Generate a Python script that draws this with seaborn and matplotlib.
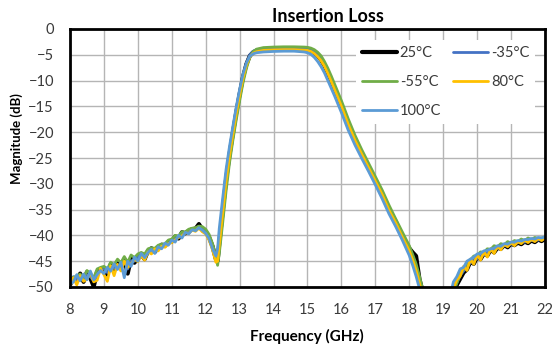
import matplotlib
matplotlib.use("Agg")
import matplotlib.pyplot as plt
from matplotlib.lines import Line2D
import seaborn as sns
import pandas as pd

# ---------------- data ----------------
freq_lower = [8.0, 8.1, 8.2, 8.3, 8.4, 8.5, 8.6, 8.7, 8.8, 8.9,
              9.0, 9.1, 9.2, 9.3, 9.4, 9.5, 9.6, 9.7, 9.8, 9.9,
              10.0, 10.1, 10.2, 10.3, 10.4, 10.5, 10.6, 10.7, 10.8, 10.9,
              11.0, 11.1, 11.2, 11.3, 11.4, 11.5, 11.6, 11.7, 11.8, 11.9,
              12.0, 12.1, 12.2, 12.3]
freq_skirt = [12.35, 12.4, 12.5, 12.6, 12.7, 12.8, 12.9, 13.0, 13.1, 13.2,
              13.3, 13.4, 13.5, 13.7, 14.0, 14.3, 14.6, 14.9, 15.0, 15.1,
              15.2, 15.3, 15.4, 15.5, 15.6, 15.7, 15.8, 16.0, 16.2, 16.4,
              16.6, 16.8, 17.0, 17.2, 17.4, 17.6, 17.8, 18.0, 18.1, 18.2,
              18.3, 18.4, 18.5, 18.7, 19.0, 19.2]
freq_upper = [19.3, 19.4, 19.5, 19.6, 19.7, 19.8, 19.9, 20.0, 20.1, 20.2,
              20.3, 20.4, 20.5, 20.6, 20.7, 20.8, 20.9, 21.0, 21.1, 21.2,
              21.3, 21.4, 21.5, 21.6, 21.7, 21.8, 21.9, 22.0]
freq_ghz = freq_lower + freq_skirt + freq_upper

il_25C = [
    -49.6, -48.4, -48.9, -47.4, -49.0, -47.1, -48.3, -49.9, -47.0, -46.6,
    -46.9, -47.6, -45.6, -46.8, -45.4, -46.3, -44.6, -47.4, -44.4, -45.3,
    -44.3, -43.7, -44.6, -43.0, -42.5, -43.2, -42.4, -41.8, -42.0, -41.3,
    -41.2, -40.2, -40.6, -39.4, -39.6, -39.1, -38.8, -38.7, -37.8, -38.9,
    -39.3, -40.4, -42.1, -44.6,
    -44.9, -41.5, -35.3, -29.2, -24.4, -20.2, -16.2, -12.6, -9.3, -6.8,
    -5.2, -4.5, -4.2, -4.0, -3.9, -3.85, -3.85, -3.95, -4.0, -4.2,
    -4.6, -5.2, -6.0, -7.1, -8.5, -10.0, -11.6, -14.8, -18.3, -21.4,
    -24.1, -26.7, -29.3, -31.9, -34.9, -37.3, -40.1, -42.5, -43.3, -44.0,
    -48.5, -51.0, -54.5, -60.0, -60.0, -53.5,
    -50.8, -49.6, -48.4, -47.2, -46.6, -45.1, -45.5, -44.2, -44.6, -43.5,
    -43.9, -42.8, -43.3, -42.4, -42.6, -41.9, -42.3, -41.6, -41.9, -41.4,
    -41.7, -41.2, -41.5, -41.0, -41.3, -40.8, -41.1, -40.7]

il_m35C = [
    -49.2, -48.0, -48.6, -47.9, -48.5, -47.6, -48.0, -48.8, -47.3, -46.9,
    -46.4, -47.2, -46.0, -46.4, -45.8, -45.9, -45.0, -46.5, -44.9, -45.0,
    -44.0, -44.2, -44.1, -43.4, -42.9, -43.0, -42.6, -42.1, -41.9, -41.5,
    -41.0, -40.5, -40.4, -39.7, -39.5, -39.2, -38.9, -38.6, -38.3, -38.7,
    -39.2, -40.3, -42.0, -44.8,
    -44.6, -41.0, -35.0, -29.0, -24.2, -20.0, -16.0, -12.4, -9.1, -6.6,
    -5.0, -4.3, -4.0, -3.8, -3.7, -3.65, -3.65, -3.75, -3.8, -4.0,
    -4.4, -5.0, -5.8, -6.9, -8.3, -9.8, -11.4, -14.6, -18.1, -21.2,
    -24.0, -26.5, -29.1, -31.7, -34.6, -37.1, -39.8, -42.4, -44.0, -46.0,
    -48.6, -51.3, -54.3, -60.0, -60.0, -53.8,
    -50.5, -49.2, -47.8, -46.9, -46.0, -45.3, -44.8, -44.5, -44.0, -43.8,
    -43.4, -43.0, -42.9, -42.5, -42.4, -42.0, -42.0, -41.7, -41.6, -41.4,
    -41.3, -41.3, -41.1, -41.0, -40.9, -40.9, -40.7, -40.6]

il_m55C = [
    -49.0, -48.2, -47.8, -47.5, -48.2, -46.8, -47.4, -48.2, -46.5, -46.2,
    -46.0, -46.5, -45.2, -45.7, -44.6, -45.3, -44.1, -45.2, -43.8, -44.3,
    -43.6, -43.3, -43.6, -42.6, -42.4, -42.5, -41.9, -41.7, -41.6, -40.9,
    -40.7, -40.0, -40.1, -39.3, -39.3, -38.8, -38.6, -38.5, -38.2, -38.3,
    -38.8, -39.8, -41.6, -44.0,
    -45.8, -43.5, -37.6, -31.4, -26.0, -21.6, -17.6, -13.9, -10.4, -7.6,
    -5.5, -4.4, -3.9, -3.6, -3.5, -3.45, -3.45, -3.5, -3.55, -3.7,
    -4.0, -4.5, -5.2, -6.3, -7.6, -9.1, -10.7, -13.9, -17.4, -20.6,
    -23.4, -26.0, -28.6, -31.2, -34.1, -36.8, -39.4, -42.0, -43.7, -45.5,
    -47.9, -50.6, -53.6, -60.0, -60.0, -54.6,
    -51.0, -49.3, -47.6, -46.4, -45.5, -44.8, -44.0, -43.9, -43.2, -43.3,
    -42.6, -42.7, -42.0, -42.2, -41.6, -41.8, -41.2, -41.5, -41.0, -41.2,
    -40.7, -41.0, -40.5, -40.8, -40.4, -40.6, -40.5, -40.3]

il_80C = [
    -49.9, -48.2, -49.6, -47.8, -48.9, -48.5, -47.2, -49.0, -48.7, -46.4,
    -47.6, -48.9, -45.9, -47.8, -45.6, -46.9, -45.0, -46.2, -45.5, -44.6,
    -45.1, -43.9, -44.8, -43.2, -43.6, -42.6, -43.0, -42.1, -42.3, -41.6,
    -41.4, -40.9, -40.4, -40.1, -39.5, -39.6, -39.0, -39.2, -38.6, -39.3,
    -39.7, -40.9, -42.8, -45.2,
    -45.0, -41.8, -35.6, -29.5, -24.6, -20.4, -16.4, -12.8, -9.5, -7.0,
    -5.4, -4.7, -4.4, -4.15, -4.05, -4.0, -4.0, -4.1, -4.15, -4.35,
    -4.75, -5.35, -6.15, -7.25, -8.65, -10.2, -11.8, -15.0, -18.5, -21.6,
    -24.3, -26.9, -29.5, -32.1, -35.1, -37.6, -40.4, -43.0, -44.8, -46.8,
    -49.3, -52.0, -55.0, -60.0, -60.0, -53.2,
    -50.2, -48.6, -47.9, -46.0, -46.8, -44.6, -45.6, -43.7, -44.8, -43.2,
    -44.2, -42.6, -43.5, -42.1, -42.8, -41.7, -42.2, -41.4, -42.0, -41.2,
    -41.6, -40.9, -41.4, -40.8, -41.2, -40.6, -41.0, -40.5]

il_100C = [
    -49.5, -49.0, -47.6, -48.8, -47.5, -48.6, -46.9, -48.6, -47.6, -46.8,
    -47.4, -46.2, -46.9, -45.5, -46.6, -45.2, -48.2, -45.0, -46.0, -44.2,
    -45.0, -43.5, -44.3, -43.3, -42.7, -43.5, -42.2, -42.6, -41.5, -41.9,
    -40.9, -41.3, -40.0, -40.5, -39.4, -39.7, -38.9, -39.1, -38.5, -39.0,
    -39.6, -40.6, -42.6, -44.0,
    -42.6, -38.6, -32.8, -27.2, -22.8, -18.9, -15.1, -11.7, -8.7, -6.6,
    -5.3, -4.8, -4.6, -4.45, -4.35, -4.3, -4.3, -4.45, -4.6, -4.9,
    -5.5, -6.3, -7.3, -8.5, -10.0, -11.5, -13.0, -16.2, -19.6, -22.5,
    -25.1, -27.6, -30.2, -32.9, -35.8, -38.3, -41.0, -43.9, -45.8, -47.9,
    -50.3, -53.0, -56.0, -60.0, -60.0, -51.8,
    -49.0, -48.0, -46.5, -46.2, -45.0, -44.6, -44.2, -43.6, -43.5, -43.0,
    -42.9, -42.6, -42.5, -42.0, -42.1, -41.6, -41.7, -41.3, -41.3, -41.0,
    -41.1, -40.8, -40.8, -40.6, -40.7, -40.4, -40.5, -40.3]

series_labels = ["25°C", "-35°C", "-55°C", "80°C", "100°C"]
series_values = [il_25C, il_m35C, il_m55C, il_80C, il_100C]
series_colors = ["#000000", "#4472C4", "#70AD47", "#FFC000", "#5B9BD5"]
series_widths = [3.0, 2.0, 2.0, 2.0, 2.0]

x_ticks = list(range(8, 23))
y_ticks = list(range(-50, 1, 5))

# ---------------- plot ----------------
sns.set_style("white")
plt.rcParams["font.family"] = ["Lato", "DejaVu Sans"]

W, H = 552, 348
fig = plt.figure(figsize=(W / 100, H / 100), dpi=100)
ax = fig.add_axes([70 / W, (H - 287) / H, (545 - 70) / W, (287 - 29) / H])

rows = []
for lab, vals in zip(series_labels, series_values):
    for f, v in zip(freq_ghz, vals):
        rows.append((lab, f, v))
df = pd.DataFrame(rows, columns=["Temp", "Frequency", "Magnitude"])

for i, (lab, col, lw) in enumerate(zip(series_labels, series_colors, series_widths)):
    sns.lineplot(data=df[df["Temp"] == lab], x="Frequency", y="Magnitude",
                 color=col, lw=lw, ax=ax, sort=False, estimator=None,
                 legend=False, zorder=3 + i)

ax.set_xlim(8, 22)
ax.set_ylim(-50, 0)
ax.set_xticks(x_ticks)
ax.set_yticks(y_ticks)
ax.set_xlabel("")
ax.set_ylabel("")
ax.grid(True, color="#b5b5b5", lw=1.0, zorder=0)
ax.set_axisbelow(True)
for s in ax.spines.values():
    s.set_visible(True)
    s.set_color("black")
    s.set_linewidth(2.0)
    s.set_zorder(10)
ax.tick_params(axis="both", length=0, labelsize=10.5, colors="#3a3a3a")
ax.tick_params(axis="x", pad=11.5)
ax.tick_params(axis="y", pad=11.5)

fig.text(327.5 / W, 1 - 16.7 / H, "Insertion Loss", ha="center", va="center",
         fontsize=13, fontweight="bold", color="black")
fig.text(307 / W, 1 - 336.5 / H, "Frequency (GHz)", ha="center", va="center",
         fontsize=11, fontweight="bold", color="black")
fig.text(16.5 / W, 1 - 139 / H, "Magnitude (dB)", ha="center", va="center",
         rotation=90, fontsize=9.5, fontweight="bold", color="black")

handles = [Line2D([], [], color=c, lw=w) for c, w in zip(series_colors, series_widths)]
order = [0, 2, 4, 1, 3]
leg = ax.legend([handles[i] for i in order], [series_labels[i] for i in order],
                ncol=2, loc="upper left",
                bbox_to_anchor=(356 / W, 1 - 40 / H), bbox_transform=fig.transFigure,
                frameon=True, fancybox=False, framealpha=1.0, facecolor="white",
                edgecolor="none", fontsize=10.5, handlelength=2.4,
                handletextpad=0.2, columnspacing=0.82, labelspacing=1.04,
                borderpad=0.4, borderaxespad=0)
leg.set_zorder(20)
for t in leg.get_texts():
    t.set_color("#3a3a3a")

fig.savefig("out.png", dpi=100)
